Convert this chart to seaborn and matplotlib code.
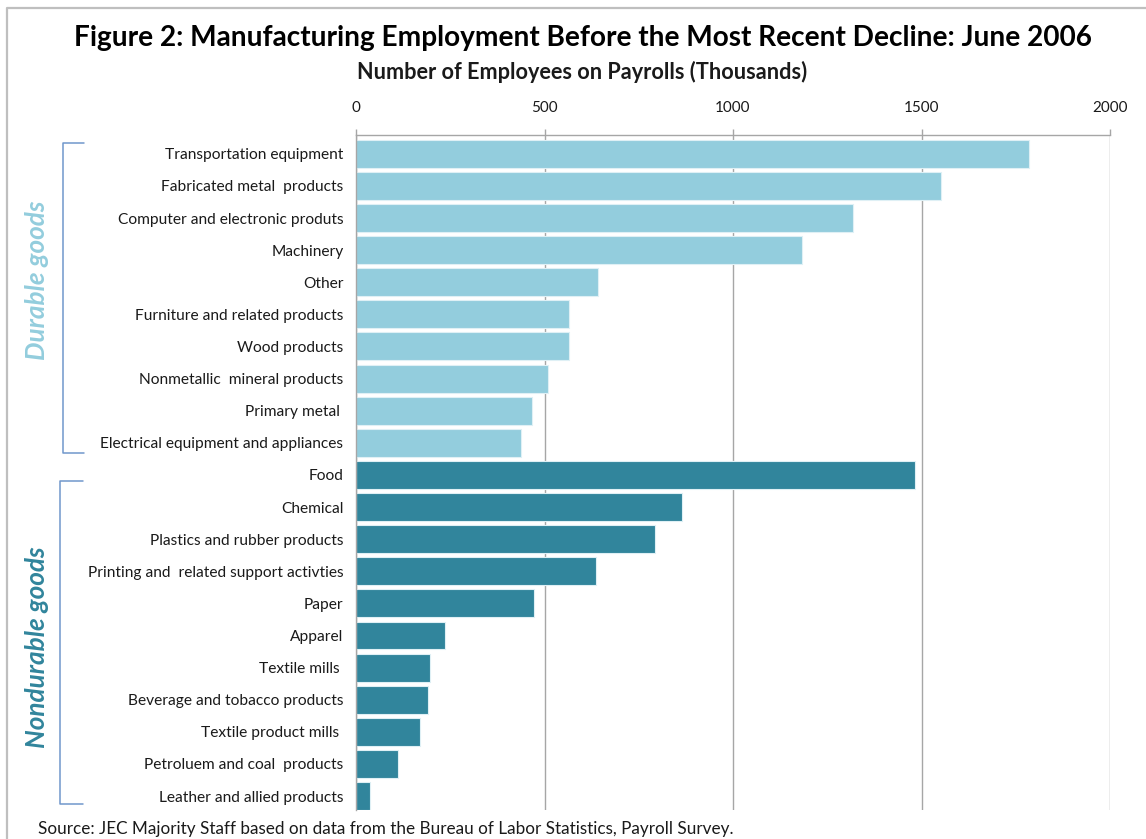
import matplotlib
matplotlib.use("Agg")
import matplotlib.pyplot as plt
from matplotlib.lines import Line2D
import seaborn as sns
import pandas as pd

durable = ["Transportation equipment", "Fabricated metal  products",
           "Computer and electronic produts", "Machinery", "Other",
           "Furniture and related products", "Wood products",
           "Nonmetallic  mineral products", "Primary metal ",
           "Electrical equipment and appliances"]
durable_vals = [1784, 1552, 1318, 1184, 643, 565, 565, 509, 468, 438]

nondurable = ["Food", "Chemical", "Plastics and rubber products",
              "Printing and  related support activties", "Paper", "Apparel",
              "Textile mills ", "Beverage and tobacco products",
              "Textile product mills ", "Petroluem and coal  products",
              "Leather and allied products"]
nondurable_vals = [1484, 864, 794, 636, 471, 236, 196, 192, 169, 112, 37]

xticks = [0, 500, 1000, 1500, 2000]

light = "#93cddd"
dark = "#31859c"
grid_col = "#a6a6a6"
txt = "#1a1a1a"

df = pd.DataFrame({
    "industry": durable + nondurable,
    "employees": durable_vals + nondurable_vals,
    "group": ["Durable"] * len(durable) + ["Nondurable"] * len(nondurable),
})

sns.set_style("white")
plt.rcParams["font.family"] = ["Lato", "DejaVu Sans"]

W, H = 1146, 839
fig = plt.figure(figsize=(W / 100, H / 100), dpi=100)
ax = fig.add_axes([356 / W, 1 - 810 / H, (1110 - 356) / W, (810 - 135) / H])

sns.barplot(data=df, x="employees", y="industry", hue="group", orient="h",
            dodge=False, palette={"Durable": light, "Nondurable": dark},
            saturation=1, width=0.87, edgecolor="#dff0f5", linewidth=0.8,
            legend=False, ax=ax)

ax.set_xlim(0, 2000)
ax.set_ylim(len(df) - 1 + 0.435, -0.585)
ax.set_xticks(xticks)
ax.xaxis.tick_top()
ax.tick_params(axis="x", direction="out", length=4, width=1, color=grid_col,
               pad=10.5, labelsize=11, labelcolor=txt)
ax.tick_params(axis="y", length=0, pad=9, labelsize=11.2, labelcolor=txt)
ax.set_xlabel("")
ax.set_ylabel("")
ax.grid(axis="x", color=grid_col, linewidth=1)
ax.set_axisbelow(True)
for s in ["right", "bottom"]:
    ax.spines[s].set_visible(False)
for s in ["top", "left"]:
    ax.spines[s].set_color(grid_col)
    ax.spines[s].set_linewidth(1)

# titles
fig.text(583 / W, 1 - 38 / H, "Figure 2: Manufacturing Employment Before the Most Recent Decline: June 2006",
         ha="center", va="center", fontsize=20.2, fontweight="bold", color="black")
fig.text(582 / W, 1 - 72 / H, "Number of Employees on Payrolls (Thousands)",
         ha="center", va="center", fontsize=15.6, fontweight="bold", color=txt)

# group labels and brackets
fig.text(37 / W, 1 - 280 / H, "Durable goods", rotation=90, ha="center", va="center",
         fontsize=18.8, fontweight="bold", fontstyle="italic", color=light)
fig.text(37 / W, 1 - 647 / H, "Nondurable goods", rotation=90, ha="center", va="center",
         fontsize=18.8, fontweight="bold", fontstyle="italic", color=dark)

br_col = "#7097cb"
for x0, x1, y0, y1 in [(63, 84, 143, 453), (60, 83, 481, 804)]:
    xs = [x1 / W, x0 / W, x0 / W, x1 / W]
    ys = [1 - y0 / H, 1 - y0 / H, 1 - y1 / H, 1 - y1 / H]
    fig.add_artist(Line2D(xs, ys, color=br_col, linewidth=1.1))

# outer frame
fig.add_artist(Line2D([7 / W, 7 / W, 1.01], [-0.01, 1 - 8 / H, 1 - 8 / H],
                      color="#bfbfbf", linewidth=1.6))

fig.text(38 / W, 1 - 834 / H,
         "Source: JEC Majority Staff based on data from the Bureau of Labor Statistics, Payroll Survey.",
         ha="left", va="baseline", fontsize=12.3, color=txt)

fig.savefig("out.png", dpi=100)
